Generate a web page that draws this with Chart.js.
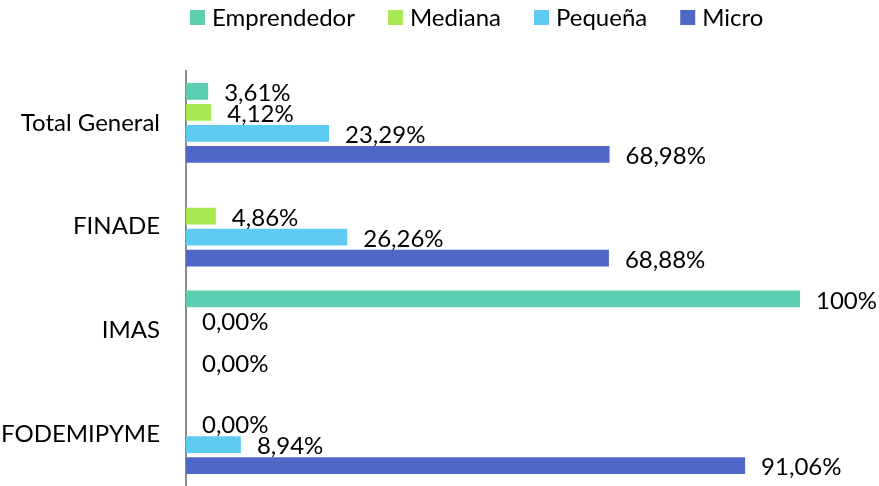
<!DOCTYPE html>
<html lang="es">
<head>
    <meta charset="UTF-8">
    <title>Distribución por tamaño de empresa</title>
    <style>
        html, body { margin: 0; padding: 0; background: #ffffff; }
        canvas { display: block; }
    </style>
</head>
<body>
    <canvas id="grafico" width="879" height="486"></canvas>

    <script src="https://cdn.jsdelivr.net/npm/chart.js"></script>
    <script>
        // Datos
        const categorias = ['Total General', 'FINADE', 'IMAS', 'FODEMIPYME'];
        const emprendedor = [3.61, null, 100, null];
        const mediana = [4.12, 4.86, 0, 0];
        const pequena = [23.29, 26.26, null, 8.94];
        const micro = [68.98, 68.88, 0, 91.06];
        const ticksX = [0, 100];

        const fuente = 'Lato, "Open Sans", sans-serif';
        const tamFuente = 24;

        function formato(v) {
            if (v !== 0 && Number.isInteger(v)) return v + '%';
            return v.toFixed(2).replace('.', ',') + '%';
        }

        // Etiquetas de datos al final de cada barra
        const etiquetas = {
            id: 'etiquetas',
            afterDatasetsDraw(chart) {
                const ctx = chart.ctx;
                ctx.save();
                ctx.font = tamFuente + 'px ' + fuente;
                ctx.fillStyle = '#000000';
                ctx.textAlign = 'left';
                ctx.textBaseline = 'middle';
                chart.data.datasets.forEach((ds, i) => {
                    const meta = chart.getDatasetMeta(i);
                    meta.data.forEach((bar, j) => {
                        const v = ds.data[j];
                        if (v === null || v === undefined) return;
                        ctx.fillText(formato(v), bar.x + 16, bar.y + 2);
                    });
                });
                ctx.restore();
            }
        };

        // Leyenda propia (cuadro pequeño, poco espacio entre cuadro y texto)
        const leyenda = {
            id: 'leyenda',
            afterDraw(chart) {
                const ctx = chart.ctx;
                ctx.save();
                ctx.font = tamFuente + 'px ' + fuente;
                ctx.textAlign = 'left';
                ctx.textBaseline = 'middle';
                let x = chart.chartArea.left + 4;
                const y = 18;
                chart.data.datasets.forEach(ds => {
                    ctx.fillStyle = ds.backgroundColor;
                    ctx.fillRect(x, y - 8, 15, 15);
                    ctx.fillStyle = '#000000';
                    ctx.fillText(ds.label, x + 22, y);
                    x += 22 + ctx.measureText(ds.label).width + 33;
                });
                ctx.restore();
            }
        };

        const ctx = document.getElementById('grafico').getContext('2d');
        new Chart(ctx, {
            type: 'bar',
            data: {
                labels: categorias,
                datasets: [
                    { label: 'Emprendedor', data: emprendedor, backgroundColor: '#5dcfb0' },
                    { label: 'Mediana', data: mediana, backgroundColor: '#a8e852' },
                    { label: 'Pequeña', data: pequena, backgroundColor: '#5fcbf2' },
                    { label: 'Micro', data: micro, backgroundColor: '#4f67c6' }
                ]
            },
            options: {
                indexAxis: 'y',
                responsive: false,
                animation: false,
                layout: { padding: { left: 0, right: 79, top: 71, bottom: 0 } },
                datasets: {
                    bar: { categoryPercentage: 0.81, barPercentage: 0.8 }
                },
                scales: {
                    x: {
                        display: false,
                        min: ticksX[0],
                        max: ticksX[1]
                    },
                    y: {
                        // ancho fijo del eje y sin margen vertical extra para las etiquetas
                        afterFit(scale) {
                            scale.width = 186;
                            scale.paddingTop = 0;
                            scale.paddingBottom = 0;
                        },
                        grid: { display: false, drawTicks: true, tickLength: 26 },
                        border: { display: true, color: '#8c8c8c', width: 2 },
                        ticks: {
                            color: '#000000',
                            padding: 0,
                            font: { family: fuente, size: tamFuente }
                        }
                    }
                },
                plugins: {
                    legend: { display: false },
                    tooltip: { enabled: false }
                }
            },
            plugins: [etiquetas, leyenda]
        });
    </script>
</body>
</html>
